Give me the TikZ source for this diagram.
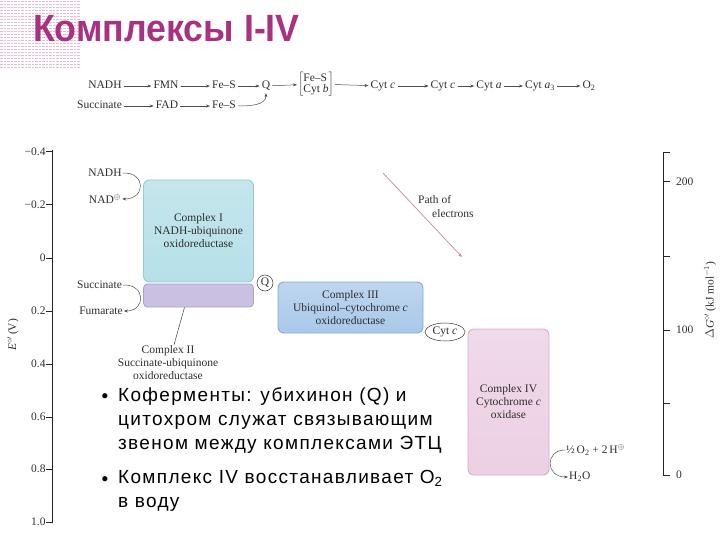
\documentclass[tikz,border=0pt]{standalone}
\usepackage{fontspec}
\usepackage{graphicx}
\setmainfont{Liberation Serif}
\newfontfamily\sansf{Liberation Sans}
\newfontfamily\sansspaced[LetterSpace=7]{Liberation Sans}
\usetikzlibrary{arrows.meta,shapes.geometric}
\definecolor{titlec}{HTML}{A8327F}
\definecolor{stripec}{HTML}{E8BBD3}
\definecolor{txtc}{HTML}{2E2E2E}
\definecolor{cIfill}{HTML}{B6E0E8}
\definecolor{cIdraw}{HTML}{98CAD6}
\definecolor{cIIfill}{HTML}{C9C0E2}
\definecolor{cIIdraw}{HTML}{ADA2CF}
\definecolor{cIIIfill}{HTML}{A9C8EA}
\definecolor{cIIIdraw}{HTML}{86AADA}
\definecolor{cIVfill}{HTML}{ECD0E3}
\definecolor{cIVdraw}{HTML}{D6AECB}
\definecolor{pathc}{HTML}{C8889C}
\begin{document}
\begin{tikzpicture}[x=1pt,y=-1pt,
  lbl/.style={font=\fontsize{11.5}{13}\selectfont, text=txtc, inner sep=1pt},
  row/.style={lbl, text height=8pt, text depth=2pt, inner sep=2pt},
  arr/.style={-{Stealth[length=4pt,width=3pt]}, line width=0.5pt, draw=black!70},
  cbox/.style={rounded corners=6pt, line width=0.9pt, align=center,
    font=\fontsize{11.5}{13}\selectfont, text=txtc, inner sep=0pt},
  axis/.style={line width=1pt, draw=black!85},
  bul/.style={font=\sansspaced\fontsize{19}{24}\selectfont, text=black, align=left, inner sep=0pt}
]
\useasboundingbox (0,0) rectangle (720,540);
% striped background, top left
\foreach \yy in {1.5,4.5,...,67.5}
  \draw[stripec, line width=1.3pt, dash pattern=on 2.5pt off 1pt] (0,\yy) -- (80,\yy);
% title
\node[anchor=base west, inner sep=0pt, font=\sansf\bfseries\fontsize{38}{40}\selectfont, text=titlec] (title) at (33,42) {\scalebox{0.94}[1]{Комплексы I-IV}};

% top reaction scheme
\node[row] (n1) at (105,86) {NADH};
\node[row] (n2) at (166,86) {FMN};
\node[row] (n3) at (224,86) {Fe–S};
\node[row] (n4) at (266,86) {Q};
\node[lbl] (n5) at (316,84) {$\left[\begin{tabular}{@{}l@{}}Fe–S\\[-2pt]Cyt \textit{b}\end{tabular}\right]$};
\node[row] (n6) at (383,86) {Cyt \textit{c}};
\node[row] (n7) at (443,86) {Cyt \textit{c}};
\node[row] (n8) at (489,86) {Cyt \textit{a}};
\node[row] (n9) at (540,86) {Cyt \textit{a}\textsubscript{3}};
\node[row] (n10) at (589,86) {O\textsubscript{2}};
\node[row] (r1) at (99.5,106) {Succinate};
\node[row] (r2) at (167,106) {FAD};
\node[row] (r3) at (224,106) {Fe–S};
\foreach \a/\b in {n1/n2,n2/n3,n3/n4,n4/n5,n5/n6,n6/n7,n7/n8,n8/n9,n9/n10,r1/r2,r2/r3}
  \draw[arr] (\a) -- (\b);
\draw[arr] (r3.east) to[out=0,in=-90] (n4.south);

% left axis
\draw[axis] (52,150) -- (52,523);
\foreach \v/\yy in {−0.4/152,−0.2/205,0/258,0.2/311,0.4/364,0.6/417,0.8/469,1.0/522}
  \draw[axis] (46,\yy) -- (52,\yy) node[lbl, anchor=east, xshift=-5pt] {\v};
\node[lbl, rotate=90] (ylab) at (13,335) {\textit{E}$^{\circ\prime}$\,(V)};

% right axis
\draw[axis] (663,153) -- (663,475);
\foreach \yy in {153,182,256,330,403,475}
  \draw[axis] (663,\yy) -- (670,\yy);
\node[lbl, anchor=west] (g200) at (675,182) {200};
\node[lbl, anchor=west] (g100) at (675,330) {100};
\node[lbl, anchor=west] (g0) at (675,475) {0};
\node[lbl, rotate=90] (glab) at (710,300) {$\Delta$\textit{G}$^{\circ\prime}$\,(kJ mol$^{-1}$)};

% complexes
\node[cbox, draw=cIdraw, top color=cIfill!80!white, bottom color=cIfill, minimum width=110pt, minimum height=102pt] (c1) at (198.5,231) {Complex I\\NADH-ubiquinone\\oxidoreductase};
\node[cbox, draw=cIIdraw, fill=cIIfill, minimum width=110pt, minimum height=23pt, rounded corners=4pt] (c2) at (198.5,295.5) {};
\node[cbox, draw=cIIIdraw, top color=cIIIfill!75!white, bottom color=cIIIfill, minimum width=145pt, minimum height=51pt] (c3) at (350.5,307.5) {Complex III\\Ubiquinol–cytochrome \textit{c}\\oxidoreductase};
\node[cbox, draw=cIVdraw, top color=cIVfill!80!white, bottom color=cIVfill, minimum width=81pt, minimum height=146pt] (c4) at (508.5,402) {Complex IV\\Cytochrome \textit{c}\\oxidase};

% carriers
\node[lbl, draw=black!80, circle, inner sep=1.2pt, line width=0.5pt] (q) at (265,283) {Q};
\node[lbl, draw=black!80, ellipse, inner sep=1pt, minimum width=40pt, minimum height=18pt, line width=0.5pt] (cytc) at (445,332) {Cyt \textit{c}};

% substrates
\node[lbl] (nadh) at (105,173) {NADH};
\node[lbl] (nad) at (105,199) {NAD\textsuperscript{$\oplus$}};
\draw[arr] (nadh.east) .. controls (146,172) and (146,199) .. (nad.east);
\node[lbl] (succ) at (99.5,285) {Succinate};
\node[lbl] (fum) at (101,311) {Fumarate};
\draw[arr] (succ.east) .. controls (146,284) and (146,311) .. (fum.east);
\node[lbl, anchor=west] (o2) at (565,450) {\textonehalf\,O\textsubscript{2} + 2\,H\textsuperscript{$\oplus$}};
\node[lbl, anchor=west] (h2o) at (568,477) {H\textsubscript{2}O};
\draw[arr] (o2.west) .. controls (545,450) and (545,477) .. (h2o.west);

% complex II label
\node[lbl, align=center] (c2lbl) at (168,363) {Complex II\\Succinate-ubiquinone\\oxidoreductase};
\draw[line width=0.5pt, black!75] ([xshift=-14pt]c2.south) -- ([xshift=6pt]c2lbl.north);

% path of electrons
\coordinate (pe1) at (383,173);
\coordinate (pe2) at (462,257);
\draw[-{Stealth[length=4pt,width=3pt]}, line width=0.7pt, pathc] (pe1) -- (pe2);
\node[lbl, anchor=west] (pa) at (417,200) {Path of};
\node[lbl, anchor=west] (pb) at (431,214) {electrons};

% bullets
\node[bul, anchor=base] (d1) at (105,402) {•};
\node[bul, anchor=north west] (b1) at (118,387) {Коферменты: убихинон (Q) и\\цитохром служат связывающим\\звеном между комплексами ЭТЦ};
\node[bul, anchor=base] (d2) at (105,485) {•};
\node[bul, anchor=north west] (b2) at (118,470) {Комплекс IV восстанавливает O\textsubscript{2}\\в воду};
\end{tikzpicture}
\end{document}
